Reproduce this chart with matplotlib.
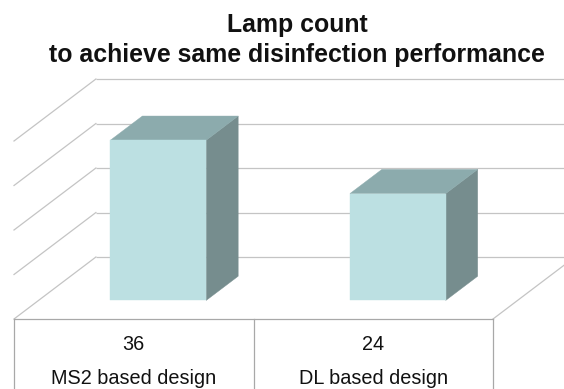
import matplotlib
matplotlib.use("Agg")
import matplotlib.pyplot as plt
from matplotlib.patches import Polygon

plt.rcParams['font.family'] = ['Liberation Sans', 'DejaVu Sans']

# Data
categories = ["MS2 based design", "DL based design"]
lamp_counts = [36, 24]
gridline_values = [0, 10, 20, 30, 40]
title_lines = ["Lamp count", "to achieve same disinfection performance"]

# 3-D look: oblique offset of the back wall, in data units
DX, DY = 0.342, 13.93          # full depth offset (categories, value units)
BAR_D0, BAR_D1 = 0.30, 0.69    # bar depth span (fraction of full depth)
BAR_W = 0.4                    # bar width as fraction of a category
YMAX = 40

FRONT = "#BCE0E2"
TOP = "#8CABAD"
SIDE = "#768D8E"
GRID = "#C4C4C4"
TABLE = "#A8A8A8"

W, H = 564, 389
fig = plt.figure(figsize=(W / 100, H / 100), dpi=100)
ax = fig.add_axes([14 / W, (H - 319) / H, 479 / W, 178 / H])
ax.set_xlim(0, len(categories))
ax.set_ylim(0, YMAX)
ax.axis("off")

n = len(categories)

# back wall gridlines and side-wall diagonals
for v in gridline_values:
    ax.plot([DX, n + DX + 1], [v + DY, v + DY], color=GRID, lw=0.9,
            clip_on=False, zorder=1, solid_capstyle="butt")
    ax.plot([0, DX], [v, v + DY], color=GRID, lw=0.9, clip_on=False, zorder=1)
# right floor edge
ax.plot([n, n + DX], [0, DY], color=GRID, lw=0.9, clip_on=False, zorder=1)


def pt(x, y, d):
    return (x + d * DX, y + d * DY)


# bars
for i, val in enumerate(lamp_counts):
    x0 = i + (1 - BAR_W) / 2
    x1 = x0 + BAR_W
    side = [pt(x1, 0, BAR_D0), pt(x1, 0, BAR_D1), pt(x1, val, BAR_D1), pt(x1, val, BAR_D0)]
    top = [pt(x0, val, BAR_D0), pt(x1, val, BAR_D0), pt(x1, val, BAR_D1), pt(x0, val, BAR_D1)]
    front = [pt(x0, 0, BAR_D0), pt(x1, 0, BAR_D0), pt(x1, val, BAR_D0), pt(x0, val, BAR_D0)]
    for poly, col in ((side, SIDE), (top, TOP), (front, FRONT)):
        ax.add_patch(Polygon(poly, closed=True, facecolor=col, edgecolor=col,
                             lw=0.3, clip_on=False, zorder=3))

# data table beneath the plot
ax.plot([0, n], [0, 0], color=TABLE, lw=0.9, clip_on=False, zorder=4)
for xv in range(n + 1):
    ax.plot([xv, xv], [0, -30], color=TABLE, lw=0.9, clip_on=False, zorder=4)
for i, (cat, val) in enumerate(zip(categories, lamp_counts)):
    ax.text(i + 0.5, -7.0, f"{val}", ha="center", va="baseline", fontsize=14.3,
            color="#111111", clip_on=False)
    ax.text(i + 0.5, -14.6, cat, ha="center", va="baseline", fontsize=14.3,
            color="#111111", clip_on=False)

# two-line title
for line, y_px in zip(title_lines, (32, 62)):
    fig.text(297 / W, 1 - y_px / H, line, ha="center", va="baseline",
             fontsize=17.9, fontweight="bold", color="#111111")

fig.savefig("out.png", dpi=100, facecolor="white")
